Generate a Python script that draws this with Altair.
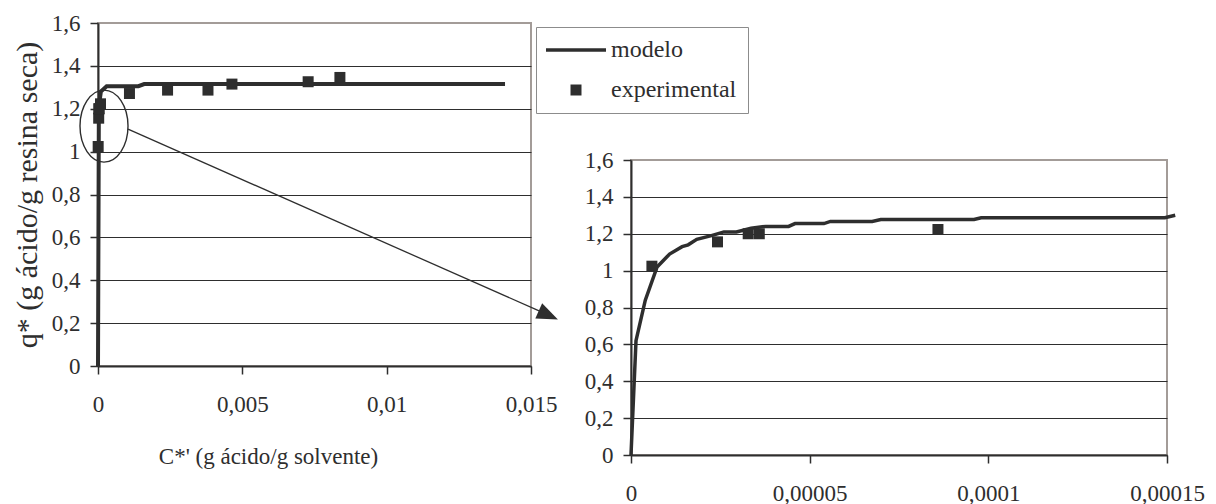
import altair as alt
import pandas as pd

FONT = "Liberation Serif"
INK = "#2e2e2e"
BORDER = "#a39c98"

# ---------------- data ----------------
# model curve, full range (left panel)
model_left_x = [0.0, 0.00003, 0.0001, 0.0003, 0.0014, 0.0016, 0.0141]
model_left_y = [0.0, 1.21, 1.28, 1.305, 1.305, 1.315, 1.315]

# model curve, zoomed range (right panel)
model_zoom_x = [0.0, 1.4e-6, 4.0e-6, 7.3e-6, 1.08e-5, 1.43e-5, 1.6e-5, 1.84e-5,
                2.25e-5, 2.6e-5, 2.95e-5, 3.36e-5, 3.77e-5, 4.41e-5, 4.59e-5,
                5.4e-5, 5.58e-5, 6.75e-5, 6.99e-5, 9.6e-5, 9.8e-5, 1.494e-4, 1.523e-4]
model_zoom_y = [0.0, 0.62, 0.84, 1.02, 1.09, 1.13, 1.14, 1.17,
                1.19, 1.21, 1.21, 1.23, 1.24, 1.24, 1.255,
                1.255, 1.267, 1.267, 1.277, 1.277, 1.287, 1.287, 1.30]

# experimental points
exp_x = [5.85e-6, 2.42e-5, 3.28e-5, 3.59e-5, 8.59e-5,
         0.00109, 0.00241, 0.00381, 0.00464, 0.00728, 0.00838]
exp_y = [1.024, 1.156, 1.20, 1.20, 1.223,
         1.271, 1.287, 1.287, 1.315, 1.326, 1.346]

series_names = ["modelo", "experimental"]

y_ticks = [0, 0.2, 0.4, 0.6, 0.8, 1.0, 1.2, 1.4, 1.6]
x_ticks_left = [0, 0.005, 0.01, 0.015]
x_ticks_zoom = [0, 0.00005, 0.0001, 0.00015]

x_title = "C*' (g ácido/g solvente)"
y_title = "q* (g ácido/g resina seca)"

# zoom annotation (ellipse + arrow), in left-panel data units
ring_x, ring_y = [0.000208], [1.119]
arrow_x, arrow_y = [0.00104, 0.0153], [1.105, 0.256]
tip_x, tip_y = [0.0156], [0.237]

# ---------------- tables ----------------
df_model_left = pd.DataFrame({"x": model_left_x, "y": model_left_y})
df_model_zoom = pd.DataFrame({"x": model_zoom_x, "y": model_zoom_y})
df_exp = pd.DataFrame({"x": exp_x, "y": exp_y, "serie": series_names[1]})
df_ring = pd.DataFrame({"x": ring_x, "y": ring_y})
df_arrow = pd.DataFrame({"x": arrow_x, "y": arrow_y})
df_tip = pd.DataFrame({"x": tip_x, "y": tip_y})

LBL = "replace(format(datum.value, '~g'), '.', ',')"
# filled symbol paths (unit square -1..1, scaled by sqrt(size)/2)
LINE_PATH = "M-3,-0.17L3,-0.17L3,0.17L-3,0.17Z"
SQUARE_PATH = "M-0.55,-0.55L0.55,-0.55L0.55,0.55L-0.55,0.55Z"
RING_PATH = ("M0.667,0C0.667,0.552,0.368,1,0,1C-0.368,1,-0.667,0.552,-0.667,0"
             "C-0.667,-0.552,-0.368,-1,0,-1C0.368,-1,0.667,-0.552,0.667,0Z")
TIP_PATH = "M-1,-0.8L1,0L-1,0.8Z"

grid_color = {"condition": {"test": "datum.value >= 1.59", "value": BORDER}, "value": INK}


def enc(xdom, xticks, with_titles):
    xaxis = dict(values=xticks, labelExpr=LBL, grid=False,
                 labelFlush=False, labelOverlap=False)
    yaxis = dict(values=y_ticks, labelExpr=LBL, grid=True,
                 gridColor=grid_color, gridWidth=1,
                 labelFlush=False, labelOverlap=False)
    if with_titles:
        xaxis.update(title=x_title, titleX=170, titleAnchor="middle")
        yaxis.update(title=y_title, titleFontSize=30)
    else:
        xaxis.update(title=None)
        yaxis.update(title=None)
    x = alt.X("x:Q", scale=alt.Scale(domain=xdom, nice=False, zero=False),
              axis=alt.Axis(**xaxis))
    y = alt.Y("y:Q", scale=alt.Scale(domain=[0, 1.6], nice=False),
              axis=alt.Axis(**yaxis))
    return x, y


# ---------------- left panel ----------------
xl, yl = enc([0, 0.015], x_ticks_left, True)

left_model = alt.Chart(df_model_left).mark_line(
    color=INK, strokeWidth=4, clip=False).encode(x=xl, y=yl)

left_exp = alt.Chart(df_exp).mark_point(
    filled=True, fill=INK, strokeWidth=0, size=400, opacity=1
).encode(
    x=xl, y=yl,
    shape=alt.Shape("serie:N",
                    scale=alt.Scale(domain=series_names, range=[LINE_PATH, SQUARE_PATH]),
                    legend=alt.Legend(title=None, orient="none", legendX=438, legendY=4,
                                      padding=11, strokeColor="#8c8c8c", fillColor="white",
                                      labelFont=FONT, labelFontSize=24, labelColor=INK,
                                      labelOffset=23, symbolOffset=17, symbolSize=400,
                                      symbolStrokeWidth=0, symbolFillColor=INK,
                                      symbolOpacity=1, rowPadding=16, labelLimit=300)),
)

left_ring = alt.Chart(df_ring).mark_point(
    shape=RING_PATH, size=5184, filled=False, stroke=INK, strokeWidth=1.4,
    opacity=1, clip=False).encode(x=xl, y=yl)

left_arrow = alt.Chart(df_arrow).mark_line(
    color=INK, strokeWidth=1.3, clip=False).encode(x=xl, y=yl)

left_tip = alt.Chart(df_tip).mark_point(
    shape=TIP_PATH, size=441, angle=24, filled=True, fill=INK, strokeWidth=0,
    opacity=1, clip=False).encode(x=xl, y=yl)

left = alt.layer(left_model, left_exp, left_ring, left_arrow, left_tip).properties(
    width=433, height=343)

# ---------------- right (zoomed) panel ----------------
xr, yr = enc([0, 0.00015], x_ticks_zoom, False)

right_model = alt.Chart(df_model_zoom).mark_line(
    color=INK, strokeWidth=3.5, clip=False).encode(x=xr, y=yr)

right_exp = alt.Chart(df_exp).transform_filter(alt.datum.x <= 0.00015).mark_point(
    shape=SQUARE_PATH, filled=True, fill=INK, strokeWidth=0, size=400,
    opacity=1).encode(x=xr, y=yr)

right = alt.layer(right_model, right_exp).properties(width=536, height=295)

spacer = alt.Chart(pd.DataFrame({"x": [0]})).mark_point(opacity=0).encode(
    x=alt.value(0), y=alt.value(0)).properties(
    width=536, height=137, view=alt.ViewBackground(stroke="transparent"))

right_col = alt.vconcat(spacer, right, spacing=0, bounds="flush")

chart = alt.hconcat(left, right_col, spacing=100, bounds="flush").properties(
    padding={"left": 3, "top": 3, "right": 0, "bottom": 0}
).configure_view(
    stroke=BORDER, strokeWidth=2
).configure_axis(
    labelFont=FONT, labelFontSize=23, labelColor=INK,
    titleFont=FONT, titleFontSize=23, titleColor=INK, titleFontWeight="normal",
    tickColor=INK, tickSize=8, tickWidth=1.5, domainColor=INK, domainWidth=2,
).configure_axisY(
    labelPadding=10, titlePadding=9,
).configure_axisX(
    labelPadding=19, titlePadding=29,
)

chart.save("out.html", embed_options={"renderer": "svg", "actions": False})
